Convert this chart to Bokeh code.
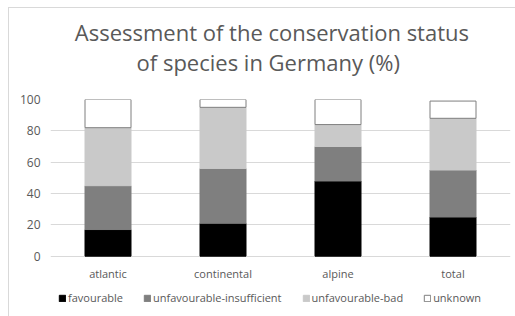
from bokeh.plotting import figure
from bokeh.layouts import column
from bokeh.models import FactorRange, FixedTicker, Legend, Range1d
from bokeh.core.properties import value
from bokeh.embed import file_html
from bokeh.resources import INLINE

regions = ["atlantic", "continental", "alpine", "total"]
favourable = [17, 21, 48, 25]
unfav_insufficient = [28, 35, 22, 30]
unfav_bad = [37, 39, 14, 33]
unknown = [18, 5, 16, 11]
series_names = ["favourable", "unfavourable-insufficient", "unfavourable-bad", "unknown"]
title_lines = ["Assessment of the conservation status", "of species in Germany (%)"]
y_ticks = [0, 20, 40, 60, 80, 100]

data = dict(region=regions, favourable=favourable,
            insufficient=unfav_insufficient, bad=unfav_bad, unknown=unknown)

FONT = "Open Sans"
TXT = "#595959"
W = 507

# --- title panel ---
t = figure(width=W, height=83, x_range=Range1d(0, W), y_range=Range1d(83, 0),
           output_backend="svg", toolbar_location=None, x_axis_type=None, y_axis_type=None,
           min_border=0, min_border_left=0, min_border_right=0,
           min_border_top=0, min_border_bottom=0)
t.outline_line_color = None
t.grid.visible = False
t.text(x=[244, 240], y=[23, 53], text=title_lines, text_align="center",
       text_baseline="alphabetic", text_font=value(FONT), text_font_size="22px",
       text_color=TXT)

# --- chart (frame extends below 0 to hold the category labels and legend) ---
p = figure(x_range=FactorRange(*regions, range_padding=0), y_range=Range1d(-38.5, 100),
           frame_width=460, frame_height=217,
           output_backend="svg", toolbar_location=None,
           min_border_left=41, min_border_right=6, min_border_bottom=0, min_border_top=8)

r = p.vbar_stack(["favourable", "insufficient", "bad", "unknown"], x="region", width=0.4,
                 source=data,
                 fill_color=["#000000", "#7f7f7f", "#c9c9c9", "#ffffff"],
                 line_color=["#000000", "#7f7f7f", "#c9c9c9", "#7f7f7f"],
                 line_width=1)

p.outline_line_color = None
p.xgrid.grid_line_color = None
p.ygrid.grid_line_color = "#d9d9d9"
p.ygrid.grid_line_width = 1
p.yaxis.ticker = FixedTicker(ticks=y_ticks)
p.xaxis.fixed_location = 0
for ax in (p.xaxis[0], p.yaxis[0]):
    ax.axis_line_color = None
    ax.major_tick_line_color = None
    ax.minor_tick_line_color = None
    ax.major_tick_out = 0
    ax.major_tick_in = 0
    ax.major_label_text_font = FONT
    ax.major_label_text_color = TXT
p.xaxis.major_label_text_font_size = "11px"
p.yaxis.major_label_text_font_size = "12px"
p.yaxis.major_label_standoff = 10
p.xaxis.major_label_standoff = 10

legend = Legend(items=[(n, [rr]) for n, rr in zip(series_names, r)],
                orientation="horizontal", location=(8, 11),
                glyph_width=8, glyph_height=8, label_standoff=2, spacing=20,
                label_text_font=FONT, label_text_font_size="11px", label_text_color=TXT,
                border_line_color=None, background_fill_alpha=0,
                padding=2, margin=0, label_height=12)
p.add_layout(legend, "center")

layout = column(t, p, spacing=0)
layout.styles = {"margin-left": "8px", "margin-top": "7px",
                 "border-left": "1px solid #d9d9d9", "border-top": "1px solid #d9d9d9"}

open("out.html", "w").write(file_html(layout, INLINE))
